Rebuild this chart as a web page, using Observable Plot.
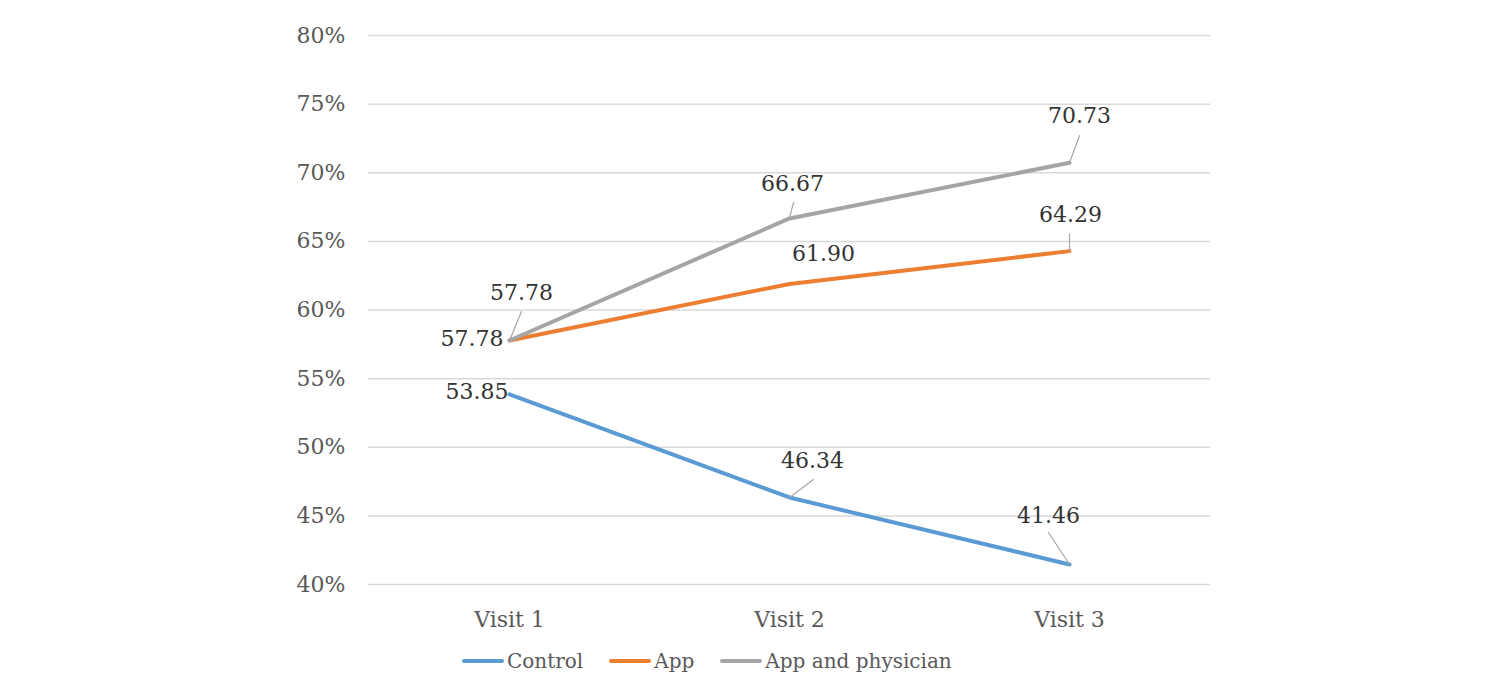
<!DOCTYPE html>
<html>
<head>
<meta charset="utf-8">
<script src="https://cdn.jsdelivr.net/npm/d3@7"></script>
<script src="https://cdn.jsdelivr.net/npm/@observablehq/plot@0.6"></script>
<style>
  body { margin: 0; background: #fff; font-family: 'DejaVu Serif', serif; }
  #wrap { position: relative; width: 1500px; height: 699px; }
  #legend { position: absolute; left: 462px; top: 649px; display: flex; align-items: center; font-size: 20px; color: #595959; white-space: nowrap; }
  #legend .item { display: flex; align-items: center; margin-right: 26px; }
  #legend svg { margin-right: 3px; }
</style>
</head>
<body>
<div id="wrap"><div id="chart"></div><div id="legend"></div></div>
<script>
const visits = ["Visit 1", "Visit 2", "Visit 3"];
const seriesNames = ["Control", "App", "App and physician"];
const controlValues = [53.85, 46.34, 41.46];
const appValues = [57.78, 61.90, 64.29];
const appPhysicianValues = [57.78, 66.67, 70.73];
const yTicks = [40, 45, 50, 55, 60, 65, 70, 75, 80];
const colors = ["#5b9bd5", "#ed7d31", "#a5a5a5"];
const serif = "'DejaVu Serif', serif";

// label placement (pixels relative to point): [dx, dy, anchor]
const labelPlacement = {
  "Control": [[-1, -2, "end"], [23, -37, "middle"], [-21, -49, "middle"]],
  "App": [[-6, -2, "end"], [34, -30, "middle"], [1, -36, "middle"]],
  "App and physician": [[12, -48, "middle"], [3, -35, "middle"], [10, -47, "middle"]]
};
// leader lines (pixel vector from point), null = none
const leaderLines = {
  "Control": [null, [24, -18], [-21, -32]],
  "App": [null, null, [0, -17]],
  "App and physician": [[12, -29], [4, -16], [10, -27]]
};

const valuesBySeries = [controlValues, appValues, appPhysicianValues];
const data = seriesNames.flatMap((s, si) => visits.map((v, vi) => ({series: s, visit: v, value: valuesBySeries[si][vi], vi})));

const labelMarks = data.map(d => {
  const [dx, dy, anchor] = labelPlacement[d.series][d.vi];
  return Plot.text([d], {x: "visit", y: "value", text: d => d.value.toFixed(2), dx, dy, textAnchor: anchor, fill: "#333333", fontSize: 22, fontFamily: serif});
});
const lineShape = {draw(context, l) { context.moveTo(0, 0); context.lineTo(0, -l); }};
const leaderMarks = data.filter(d => leaderLines[d.series][d.vi]).map(d => {
  const [lx, ly] = leaderLines[d.series][d.vi];
  const length = Math.hypot(lx, ly);
  const rotate = Math.atan2(lx, -ly) * 180 / Math.PI;
  return Plot.vector([d], {x: "visit", y: "value", length, rotate, anchor: "start", shape: lineShape, stroke: "#a6a6a6", strokeWidth: 1.2});
});

const chart = Plot.plot({
  width: 1500,
  height: 640,
  marginTop: 35,
  marginBottom: 56,
  marginLeft: 368,
  marginRight: 290,
  style: {fontFamily: serif, background: "#fff"},
  x: {type: "point", domain: visits, padding: 0.5, label: null},
  y: {domain: [40, 80], label: null},
  color: {domain: seriesNames, range: colors},
  marks: [
    Plot.gridY(yTicks, {stroke: "#d9d9d9", strokeOpacity: 1, strokeWidth: 1.5}),
    Plot.axisY(yTicks, {tickSize: 0, tickPadding: 23, tickFormat: d => d + "%", fontSize: 22, fill: "#595959", label: null}),
    Plot.axisX({tickSize: 0, tickPadding: 27, fontSize: 22, fill: "#595959", label: null}),
    Plot.line(data, {x: "visit", y: "value", stroke: "series", strokeWidth: 4, strokeLinecap: "round", strokeLinejoin: "round"}),
    ...leaderMarks,
    ...labelMarks
  ]
});
document.getElementById("chart").appendChild(chart);

const legend = document.getElementById("legend");
seriesNames.forEach((s, i) => {
  const item = document.createElement("div");
  item.className = "item";
  item.innerHTML = `<svg width="42" height="10"><line x1="2" y1="5" x2="40" y2="5" stroke="${colors[i]}" stroke-width="4" stroke-linecap="round"/></svg><span>${s}</span>`;
  legend.appendChild(item);
});
</script>
</body>
</html>
